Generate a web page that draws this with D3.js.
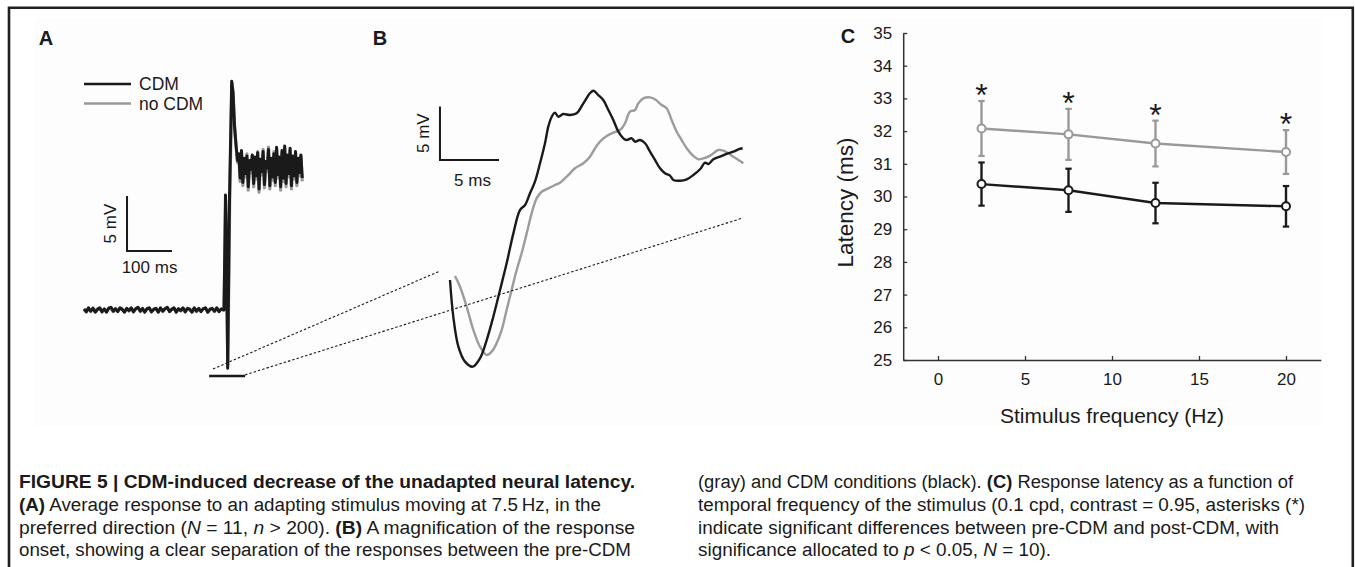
<!DOCTYPE html>
<html><head><meta charset="utf-8">
<script src="https://cdn.jsdelivr.net/npm/d3@7"></script>
<style>
body{margin:0;background:#fff}
svg{display:block}
text{font-family:"Liberation Sans",Arial,Helvetica,sans-serif;fill:#1a1a1a}
</style>
</head><body>
<svg id="fig" width="1355" height="567"></svg>
<script>
// ---------------- DATA ----------------
const panelLabels = ["A", "B", "C"];
const legendLabels = ["CDM", "no CDM"];

// Panel A: average response (time in ms, voltage in mV)
const aBaseDt = 5;   // baseline sample spacing (ms), starts at t = 0
const aBaseCDM = [0.1,-0.15,0.2,-0.1,0.15,-0.2,0.05,0.2,-0.15,0.1,-0.2,0.15,0.25,-0.1,0.1,-0.15,0.2,0.05,-0.2,0.15,-0.05,0.2,-0.15,0.1,0.25,-0.1,0.15,-0.2,0.1,0.2,-0.15,0.05,0.15,-0.2,0.2,-0.1,0.1,0.25,-0.15,0.05,0.2,-0.2,0.1,-0.05,0.2,-0.15,0.15,0.05,-0.2,0.2,-0.1,0.15,-0.15,0.1,0.2,-0.2,0.05,0.15,-0.1,0.2,-0.15,0.1,0.0];
const aBaseNoCDM = [0.05,-0.2,0.15,-0.15,0.2,-0.1,0.1,0.15,-0.2,0.05,-0.15,0.2,0.1,-0.15,0.15,-0.1,0.15,0.1,-0.15,0.1,-0.1,0.15,-0.2,0.15,0.2,-0.15,0.1,-0.15,0.15,0.15,-0.2,0.1,0.1,-0.15,0.15,-0.15,0.15,0.2,-0.1,0.1,0.15,-0.15,0.15,-0.1,0.15,-0.2,0.1,0.1,-0.15,0.15,-0.15,0.1,-0.1,0.15,0.15,-0.15,0.1,0.1,-0.15,0.15,-0.1,0.05,0.0];
const aOnsetCDM = [[311.1,0],[312.9,5.45],[314.4,10.45],[316,7.3],[319.3,-5.3],[323.3,10],[328.2,20.8],[331.1,19.8],[334.4,16.8],[337.8,15],[341.1,13.6]];
const aOnsetNoCDM = [[311.1,0],[313.2,5],[314.8,10],[316.4,7],[319.6,-5],[323.8,10],[328.8,20.6],[331.6,19.6],[334.8,16.5],[338.2,14.8],[341.1,13.4]];
const aSustStart = 344, aSustDt = 3;
const aSustCDM = [14.2,12.0,14.5,11.6,13.8,12.4,14.0,11.2,13.6,12.8,14.1,11.5,13.9,12.2,14.3,11.0,13.7,12.6,14.4,11.4,13.5,12.9,14.6,11.3,13.8,12.1,14.2,11.6,14.8,12.3,13.9,11.2,14.5,12.0,14.9,11.5,14.1,12.4,14.7,11.3,14.0,12.2,14.4,11.6,13.8,12.5,14.1,12.0];
const aSustNoCDM = [14.0,11.7,14.3,11.3,13.7,12.1,14.2,10.9,13.4,12.5,14.0,11.2,13.7,11.9,14.4,10.7,13.5,12.3,14.6,11.1,13.4,12.6,14.8,11.0,13.6,11.8,14.4,11.3,14.6,12.0,13.8,10.9,14.3,11.7,14.7,11.2,13.9,12.1,14.5,11.0,13.8,11.9,14.2,11.3,13.7,12.2,14.0,11.7];
const aScaleBar = {t: 95.6, v: 5.36, dt: 100, dv: 5, tLabel: "100 ms", vLabel: "5 mV"};
const aZoomWindow = {t0: 278, t1: 358, v: -6};

// Panel B: magnified onset (time ms, voltage mV)
const bCDM = [[0,8.13],[0.28,4.70],[0.71,1.90],[1.27,0.50],[1.92,0.03],[2.54,0.81],[3.11,2.52],[3.67,4.70],[4.24,7.20],[4.80,9.69],[5.37,12.49],[5.93,14.67],[6.36,15.14],[6.78,16.23],[7.20,17.32],[7.63,19.04],[8.05,20.91],[8.33,22.46],[8.62,23.39],[8.90,23.77],[9.18,23.39],[9.60,23.64],[10.17,23.55],[10.73,23.71],[11.30,24.64],[11.86,25.58],[12.15,25.82],[12.57,25.42],[12.99,24.95],[13.42,24.02],[13.84,23.08],[14.27,21.99],[14.69,21.37],[14.97,21.21],[15.40,21.37],[15.68,21.06],[16.10,21.21],[16.53,20.91],[16.95,20.12],[17.37,19.35],[17.80,18.57],[18.22,18.10],[18.64,17.88],[18.93,17.48],[19.49,17.41],[20.06,17.54],[20.62,17.94],[21.19,18.48],[21.61,19.10],[21.89,18.97],[22.32,19.41],[22.88,19.66],[23.45,19.91],[24.01,20.12],[24.44,20.34],[24.80,20.44]];
const bNoCDM = [[0.42,8.50],[0.85,7.50],[1.41,5.64],[1.98,3.46],[2.54,1.90],[3.11,1.12],[3.53,1.43],[3.95,2.21],[4.38,3.46],[4.80,5.33],[5.22,7.20],[5.65,9.07],[6.07,10.63],[6.50,12.49],[6.92,14.36],[7.34,15.76],[7.77,16.38],[8.33,16.70],[8.90,17.01],[9.32,17.22],[9.60,17.48],[10.03,17.94],[10.59,18.57],[11.30,19.04],[11.86,19.66],[12.29,20.44],[12.71,21.06],[13.28,21.59],[13.84,21.90],[14.41,22.15],[14.83,22.77],[15.25,23.86],[15.68,24.02],[15.96,24.64],[16.38,25.11],[16.95,25.20],[17.37,25.02],[17.94,24.49],[18.36,24.18],[18.78,23.08],[19.21,21.99],[19.63,21.21],[20.06,20.44],[20.62,19.72],[21.05,19.41],[21.47,19.50],[21.89,19.66],[22.32,19.97],[22.74,20.28],[23.16,20.22],[23.59,19.97],[24.01,19.66],[24.44,19.35],[24.86,19.04]];
const bScaleBar = {t: -0.85, v: 19.35, dt: 5, dv: 5, tLabel: "5 ms", vLabel: "5 mV"};
const bLinkPoints = [{t: -0.85, v: 8.97}, {t: 24.83, v: 13.93}];
const aLinkPoints = [{t: 286.7, v: -5.36}, {t: 357.8, v: -5.9}];

// Panel C: latency vs stimulus frequency
const freqs = [2.5, 7.5, 12.5, 20];
const latNoCDM = [32.08, 31.90, 31.62, 31.36];
const errNoCDM = [0.84, 0.78, 0.70, 0.67];
const latCDM = [30.38, 30.19, 29.80, 29.70];
const errCDM = [0.66, 0.66, 0.62, 0.62];
const significant = [true, true, true, true];
const xTicks = [0, 5, 10, 15, 20];
const yTicks = [25, 26, 27, 28, 29, 30, 31, 32, 33, 34, 35];
const xTitle = "Stimulus frequency (Hz)";
const yTitle = "Latency (ms)";

// Caption
const captionLeft = [
  [["FIGURE 5 | CDM-induced decrease of the unadapted neural latency.", "b"]],
  [["(A)", "b"], [" Average response to an adapting stimulus moving at 7.5\u2009Hz, in the", ""]],
  [["preferred direction (", ""], ["N", "i"], [" = 11, ", ""], ["n", "i"], [" > 200). ", ""], ["(B)", "b"], [" A magnification of the response", ""]],
  [["onset, showing a clear separation of the responses between the pre-CDM", ""]]
];
const captionRight = [
  [["(gray) and CDM conditions (black). ", ""], ["(C)", "b"], [" Response latency as a function of", ""]],
  [["temporal frequency of the stimulus (0.1 cpd, contrast = 0.95, asterisks (*)", ""]],
  [["indicate significant differences between pre-CDM and post-CDM, with", ""]],
  [["significance allocated to ", ""], ["p", "i"], [" < 0.05, ", ""], ["N", "i"], [" = 10).", ""]]
];
const captionLeftWidths = [616, 582, 616, 612];
const captionRightWidths = [595, 607, 581, 353];

// ---------------- DRAWING ----------------
const BLACK = "#1a1a1a", GRAY = "#999999";
const svg = d3.select("#fig");

// figure frame & panel background
svg.append("rect").attr("x", 35).attr("y", 18).attr("width", 1287).attr("height", 408).attr("fill", "#fdfdfd");
svg.append("path").attr("d", "M9,567 V7.7 H1352.8 V567").attr("fill", "none").attr("stroke", "#231f20").attr("stroke-width", 2.6);

// ---- Panel A ----
const xA = d3.scaleLinear().domain([0, 500]).range([84, 309]);
const yA = d3.scaleLinear().domain([0, 20]).range([310, 90]);
function buildA(base, onset, sust) {
  const pts = base.map((v, i) => [i * aBaseDt, v]);
  onset.forEach(p => pts.push(p));
  sust.forEach((v, i) => pts.push([aSustStart + i * aSustDt, v]));
  return pts;
}
const lineA = d3.line().x(d => xA(d[0])).y(d => yA(d[1]));
svg.append("path").attr("d", lineA(buildA(aBaseNoCDM, aOnsetNoCDM, aSustNoCDM)))
  .attr("fill", "none").attr("stroke", GRAY).attr("stroke-width", 3.2).attr("stroke-linejoin", "round");
svg.append("path").attr("d", lineA(buildA(aBaseCDM, aOnsetCDM, aSustCDM)))
  .attr("fill", "none").attr("stroke", BLACK).attr("stroke-width", 3).attr("stroke-linejoin", "round");

// scale bar A
const sbA = aScaleBar;
svg.append("path").attr("d", `M${xA(sbA.t)},${yA(sbA.v + sbA.dv)} V${yA(sbA.v)} H${xA(sbA.t + sbA.dt)}`)
  .attr("fill", "none").attr("stroke", BLACK).attr("stroke-width", 2);
svg.append("text").attr("x", (xA(sbA.t) + xA(sbA.t + sbA.dt)) / 2).attr("y", yA(sbA.v) + 22)
  .attr("text-anchor", "middle").attr("font-size", 17).text(sbA.tLabel);
svg.append("text").attr("transform", `translate(${xA(sbA.t) - 11},${(yA(sbA.v) + yA(sbA.v + sbA.dv)) / 2}) rotate(-90)`)
  .attr("text-anchor", "middle").attr("font-size", 17).text(sbA.vLabel);

// zoom window bar
svg.append("line").attr("x1", xA(aZoomWindow.t0)).attr("x2", xA(aZoomWindow.t1))
  .attr("y1", yA(aZoomWindow.v)).attr("y2", yA(aZoomWindow.v)).attr("stroke", BLACK).attr("stroke-width", 2.5);

// legend A
[BLACK, GRAY].forEach((c, i) => {
  const y = 84 + i * 19.5;
  svg.append("line").attr("x1", 84).attr("x2", 131).attr("y1", y).attr("y2", y).attr("stroke", c).attr("stroke-width", 2.5);
  svg.append("text").attr("x", 139).attr("y", y + 6).attr("font-size", 17.5).text(legendLabels[i]);
});

// ---- Panel B ----
const xB = d3.scaleLinear().domain([0, 25]).range([450, 745]);
const yB = d3.scaleLinear().domain([0, 25]).range([367, 99.5]);
const lineB = d3.line().x(d => xB(d[0])).y(d => yB(d[1])).curve(d3.curveCatmullRom);
svg.append("path").attr("d", lineB(bNoCDM)).attr("fill", "none").attr("stroke", "#9c9c9c").attr("stroke-width", 2.4);
svg.append("path").attr("d", lineB(bCDM)).attr("fill", "none").attr("stroke", BLACK).attr("stroke-width", 2.4);

const sbB = bScaleBar;
svg.append("path").attr("d", `M${xB(sbB.t)},${yB(sbB.v + sbB.dv)} V${yB(sbB.v)} H${xB(sbB.t + sbB.dt)}`)
  .attr("fill", "none").attr("stroke", BLACK).attr("stroke-width", 2);
svg.append("text").attr("x", (xB(sbB.t) + xB(sbB.t + sbB.dt)) / 2 + 3).attr("y", yB(sbB.v) + 26)
  .attr("text-anchor", "middle").attr("font-size", 17).text(sbB.tLabel);
svg.append("text").attr("transform", `translate(${xB(sbB.t) - 11},${(yB(sbB.v) + yB(sbB.v + sbB.dv)) / 2}) rotate(-90)`)
  .attr("text-anchor", "middle").attr("font-size", 17).text(sbB.vLabel);

// dotted link lines A -> B
aLinkPoints.forEach((p, i) => {
  svg.append("line").attr("x1", xA(p.t)).attr("y1", yA(p.v))
    .attr("x2", xB(bLinkPoints[i].t)).attr("y2", yB(bLinkPoints[i].v))
    .attr("stroke", BLACK).attr("stroke-width", 1.1).attr("stroke-dasharray", "2.5,2");
});

// ---- Panel C ----
const xC = d3.scaleLinear().domain([-2, 22]).range([903.2, 1320.8]);
const yC = d3.scaleLinear().domain([25, 35]).range([360, 33]);

const gx = svg.append("g").attr("transform", `translate(0,${yC(25)})`)
  .call(d3.axisBottom(xC).tickValues(xTicks).tickSizeInner(-4).tickSizeOuter(0).tickPadding(13));
const gy = svg.append("g").attr("transform", `translate(${xC(-2)},0)`)
  .call(d3.axisLeft(yC).tickValues(yTicks).tickSizeInner(-4).tickSizeOuter(0).tickPadding(11));
[gx, gy].forEach(g => {
  g.select(".domain").attr("stroke", "#333").attr("stroke-width", 1.5);
  g.selectAll(".tick line").attr("stroke", "#333").attr("stroke-width", 1.3);
  g.selectAll(".tick text").attr("font-size", 17).attr("fill", "#1a1a1a")
    .style("font-family", '"Liberation Sans",Arial,sans-serif');
});

svg.append("text").attr("x", (xC(-2) + xC(22)) / 2).attr("y", 423).attr("text-anchor", "middle")
  .attr("font-size", 21).text(xTitle);
svg.append("text").attr("transform", `translate(853,${(yC(25) + yC(35)) / 2 + 6}) rotate(-90)`)
  .attr("text-anchor", "middle").attr("font-size", 22.5).text(yTitle);

function series(vals, errs, color) {
  const pts = freqs.map((f, i) => ({f, v: vals[i], e: errs[i]}));
  const g = svg.append("g");
  g.append("path").attr("d", d3.line().x(d => xC(d.f)).y(d => yC(d.v))(pts))
    .attr("fill", "none").attr("stroke", color).attr("stroke-width", 2.4);
  pts.forEach(d => {
    const x = xC(d.f);
    g.append("line").attr("x1", x).attr("x2", x).attr("y1", yC(d.v - d.e)).attr("y2", yC(d.v + d.e))
      .attr("stroke", color).attr("stroke-width", 2.4);
    [d.v - d.e, d.v + d.e].forEach(y => g.append("line").attr("x1", x - 3.2).attr("x2", x + 3.2)
      .attr("y1", yC(y)).attr("y2", yC(y)).attr("stroke", color).attr("stroke-width", 2.2));
    g.append("circle").attr("cx", x).attr("cy", yC(d.v)).attr("r", 4)
      .attr("fill", "#fff").attr("stroke", color).attr("stroke-width", 2);
  });
}
series(latNoCDM, errNoCDM, GRAY);
series(latCDM, errCDM, BLACK);

freqs.forEach((f, i) => {
  if (!significant[i]) return;
  svg.append("text").attr("x", xC(f)).attr("y", yC(latNoCDM[i] + errNoCDM[i]) + 5)
    .attr("text-anchor", "middle").attr("font-size", 32).text("*");
});

// panel labels
[[46, 45], [380, 45], [848, 43]].forEach((p, i) => {
  svg.append("text").attr("x", p[0]).attr("y", p[1]).attr("text-anchor", "middle")
    .attr("font-size", 20).attr("font-weight", "bold").text(panelLabels[i]);
});

// caption
const capBase = [488, 511, 534, 556];
function caption(lines, widths, x0) {
  lines.forEach((segs, i) => {
    const t = svg.append("text").attr("x", x0).attr("y", capBase[i]).attr("font-size", 18)
      .attr("textLength", widths[i]).attr("lengthAdjust", "spacingAndGlyphs").attr("fill", "#231f20");
    segs.forEach(s => {
      const ts = t.append("tspan").text(s[0]);
      if (s[1] === "b") ts.attr("font-weight", "bold");
      if (s[1] === "i") ts.attr("font-style", "italic");
    });
  });
}
caption(captionLeft, captionLeftWidths, 19);
caption(captionRight, captionRightWidths, 698);
</script>
</body></html>
